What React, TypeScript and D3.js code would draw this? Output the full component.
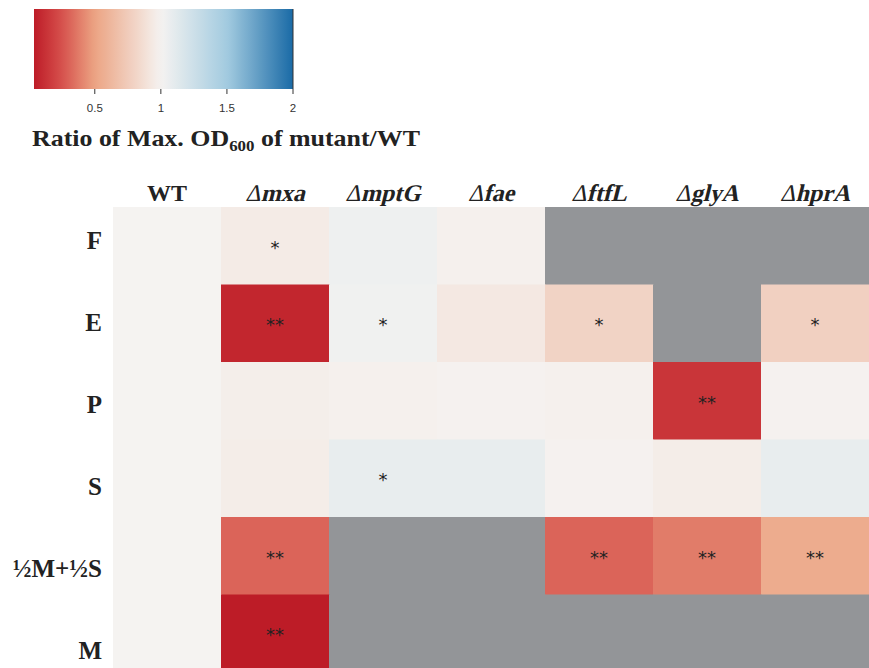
import * as d3 from "d3";

// strains (columns) and growth substrates (rows)
const strains = ["WT", "mxa", "mptG", "fae", "ftfL", "glyA", "hprA"];
const media = ["F", "E", "P", "S", "½M+½S", "M"];

// ratio of max OD600 mutant/WT, null = no growth / not tested (grey)
const ratioF = [1.0, 0.95, 1.04, 0.98, null, null, null];
const ratioE = [1.0, 0.08, 1.03, 0.93, 0.8, null, 0.78];
const ratioP = [1.0, 0.97, 0.98, 0.99, 0.98, 0.14, 0.99];
const ratioS = [1.0, 0.96, 1.08, 1.08, 0.99, 0.96, 1.08];
const ratioMS = [1.0, 0.31, null, null, 0.31, 0.38, 0.55];
const ratioM = [1.0, 0.04, null, null, null, null, null];
const ratios = [ratioF, ratioE, ratioP, ratioS, ratioMS, ratioM];

// significance marks
const sigF = ["", "*", "", "", "", "", ""];
const sigE = ["", "**", "*", "", "*", "", "*"];
const sigP = ["", "", "", "", "", "**", ""];
const sigS = ["", "", "*", "", "", "", ""];
const sigMS = ["", "**", "", "", "**", "**", "**"];
const sigM = ["", "**", "", "", "", "", ""];
const sigs = [sigF, sigE, sigP, sigS, sigMS, sigM];

const legendTicks = [0.5, 1, 1.5, 2];
const legendDomain = [0.04, 2];

const W = 869;
const H = 668;
const serif = "'Liberation Serif', 'Times New Roman', serif";
const naColor = "#939598";

const color = d3
  .scaleLinear<string>()
  .domain([0.04, 0.25, 0.5, 1, 1.5, 2])
  .range(["#bd1c27", "#d6504c", "#eca483", "#f5f3f1", "#a3cbe0", "#1a6aa6"])
  .interpolate(d3.interpolateRgb)
  .clamp(true);

export default function App() {
  const x = d3.scaleBand<string>().domain(strains).range([113, W]);
  const y = d3.scaleBand<string>().domain(media).range([207, 672]);
  const yLabel = d3.scaleBand<string>().domain(media).range([199, 691]);

  const lx = d3.scaleLinear().domain(legendDomain).range([34, 293]);
  const barTop = 9;
  const barBottom = 89;
  const gradStops = d3.range(0, 41).map((i) => legendDomain[0] + ((legendDomain[1] - legendDomain[0]) * i) / 40);

  return (
    <svg width={W} height={H} style={{ position: "absolute", left: 0, top: 0, background: "#fff" }}>
      <defs>
        <linearGradient id="lg" x1="0" x2="1" y1="0" y2="0">
          {gradStops.map((v, i) => (
            <stop key={i} offset={`${(i / 40) * 100}%`} stopColor={color(v)} />
          ))}
        </linearGradient>
      </defs>

      {/* colour legend */}
      <rect x={lx(legendDomain[0])} y={barTop} width={lx(2) - lx(legendDomain[0])} height={barBottom - barTop} fill="url(#lg)" />
      <line x1={lx(2)} x2={lx(2)} y1={barTop} y2={barBottom} stroke="#333" strokeWidth={1} />
      {legendTicks.map((t) => (
        <g key={t} transform={`translate(${lx(t)},0)`}>
          <line y1={barBottom} y2={barBottom + 5} stroke="#333" strokeWidth={1} />
          <text y={112} textAnchor="middle" fontSize={11.5} fill="#333" fontFamily="'Liberation Sans', Arial, sans-serif">
            {t}
          </text>
        </g>
      ))}
      <text
        x={32}
        y={146}
        fontFamily={serif}
        fontWeight="bold"
        fontSize={23}
        fill="#222"
        textLength={388}
        lengthAdjust="spacingAndGlyphs"
      >
        Ratio of Max. OD
        <tspan fontSize={15} dy={5}>600</tspan>
        <tspan dy={-5}> of mutant/WT</tspan>
      </text>

      {/* heatmap cells */}
      {media.map((m, ri) =>
        strains.map((s, ci) => {
          const v = ratios[ri][ci];
          return (
            <rect
              key={m + s}
              x={x(s)}
              y={y(m)}
              width={x.bandwidth() + 0.5}
              height={y.bandwidth() + 0.5}
              fill={v == null ? naColor : color(v)}
            />
          );
        })
      )}

      {/* significance */}
      {media.map((m, ri) =>
        strains.map((s, ci) =>
          sigs[ri][ci] ? (
            <text
              key={"s" + m + s}
              x={x(s)! + x.bandwidth() / 2}
              y={y(m)! + y.bandwidth() / 2 + 8}
              textAnchor="middle"
              fontSize={18}
              fontFamily="'DejaVu Sans', sans-serif"
              fill="#222"
            >
              {sigs[ri][ci]}
            </text>
          ) : null
        )
      )}

      {/* column headers (gene names slanted like Times bold italic) */}
      {strains.map((s) => (
        <g key={"h" + s} transform={`translate(${x(s)! + x.bandwidth() / 2},201)${s === "WT" ? "" : " skewX(-14)"}`}>
          <text textAnchor="middle" fontFamily={serif} fontWeight="bold" fontSize={24} fill="#222">
            {s === "WT" ? (
              "WT"
            ) : (
              <>
                <tspan fontWeight="normal">Δ</tspan>
                <tspan>{s}</tspan>
              </>
            )}
          </text>
        </g>
      ))}

      {/* row labels */}
      {media.map((m) => (
        <text
          key={"r" + m}
          x={102}
          y={yLabel(m)! + yLabel.bandwidth() / 2 + 9}
          textAnchor="end"
          fontFamily={serif}
          fontWeight="bold"
          fontSize={25}
          fill="#222"
        >
          {m}
        </text>
      ))}
    </svg>
  );
}
